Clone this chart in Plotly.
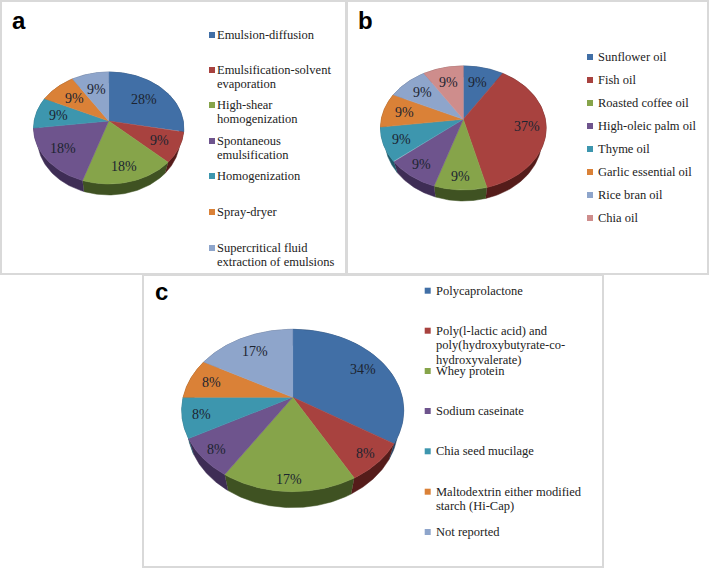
import numpy as np
import plotly.graph_objects as go

# panel a
a_labels = ["Emulsion-diffusion", "Emulsification-solvent\nevaporation", "High-shear\nhomogenization",
            "Spontaneous\nemulsification", "Homogenization", "Spray-dryer",
            "Supercritical fluid\nextraction of emulsions"]
a_values = [28, 9, 18, 18, 9, 9, 9]

# panel b
b_labels = ["Sunflower oil", "Fish oil", "Roasted coffee oil", "High-oleic palm oil",
            "Thyme oil", "Garlic essential oil", "Rice bran oil", "Chia oil"]
b_values = [9, 37, 9, 9, 9, 9, 9, 9]

# panel c
c_labels = ["Polycaprolactone", "Poly(l-lactic acid) and\npoly(hydroxybutyrate-co-\nhydroxyvalerate)",
            "Whey protein", "Sodium caseinate", "Chia seed mucilage",
            "Maltodextrin either modified\nstarch (Hi-Cap)", "Not reported"]
c_values = [34, 8, 17, 8, 8, 8, 17]

colors = ["#416fa6", "#a8423f", "#86a44a", "#6e548d", "#3d96ae", "#da8137", "#8ea5cb", "#ce8d8c"]
wall_colors = ["#26415f", "#551c1a", "#3f5222", "#3e2d55", "#1f5a6b", "#7d4615", "#505f78", "#7a4f4e"]

# layout of each panel, in pixels of the page
panels = [
    dict(name="a", labels=a_labels, values=a_values, cx=108.7, cy=121, rx=74.5, ry=55.1, k=0.125, depth=11,
         lab_r=1.0, frame=(1, 1, 346, 274), letter=(19, 20), sq_x=212, txt_x=215,
         leg_y=[35, 70, 105, 141, 176, 212, 248]),
    dict(name="b", labels=b_labels, values=b_values, cx=463.3, cy=119.3, rx=82, ry=60.8, k=0.14, depth=11,
         lab_r=1.08, frame=(347, 1, 708, 274), letter=(365, 20), sq_x=590, txt_x=595.7,
         leg_y=[57, 80, 103, 126, 149, 172, 195, 218]),
    dict(name="c", labels=c_labels, values=c_values, cx=292.7, cy=397.3, rx=109.5, ry=79, k=0.1625, depth=16,
         lab_r=1.16, frame=(143, 275, 603, 567), letter=(161, 291), sq_x=427.7, txt_x=434,
         leg_y=[290.7, 330.7, 371, 411, 451.3, 491.7, 532]),
]
line_gap = 14.4
lower_scale = 0.95  # bottom disc looks a bit narrower than the top one


def project(p, theta, r=1.0):
    # flat circle tipped towards the viewer, front edge comes out bigger
    u = r * np.sin(theta)
    v = -r * np.cos(theta)
    w = 1 - p["k"] * v
    return p["cx"] + p["rx"] * u / w, p["cy"] + p["ry"] * v / w


fig = go.Figure()
shapes = []
annotations = []

for p in panels:
    x0, y0, x1, y1 = p["frame"]
    shapes.append(dict(type="rect", x0=x0, y0=y0, x1=x1, y1=y1, line=dict(color="#d9d9d9", width=2)))
    annotations.append(dict(x=p["letter"][0], y=p["letter"][1], text="<b>" + p["name"] + "</b>", showarrow=False,
                            font=dict(family="Liberation Sans", size=24, color="black")))

    vals = np.array(p["values"], dtype=float)
    edges = np.concatenate([[0], np.cumsum(vals)]) / vals.sum() * 2 * np.pi

    # side walls first, the tops cover whatever should be hidden
    for i in range(len(vals)):
        t = np.linspace(edges[i], edges[i + 1], 60)
        xs, ys = project(p, t)
        low_x = p["cx"] + (xs - p["cx"]) * lower_scale
        low_y = ys + p["depth"]
        fig.add_trace(go.Scatter(x=np.concatenate([xs, low_x[::-1]]), y=np.concatenate([ys, low_y[::-1]]),
                                 mode="lines", fill="toself", fillcolor=wall_colors[i],
                                 line=dict(color=wall_colors[i], width=0.5), hoverinfo="skip", showlegend=False))

    for i in range(len(vals)):
        t = np.linspace(edges[i], edges[i + 1], 60)
        xs, ys = project(p, t)
        fig.add_trace(go.Scatter(x=np.concatenate([[p["cx"]], xs, [p["cx"]]]), y=np.concatenate([[p["cy"]], ys, [p["cy"]]]),
                                 mode="lines", fill="toself", fillcolor=colors[i],
                                 line=dict(color=colors[i], width=0.5), hoverinfo="skip", showlegend=False))

    # percent labels
    for i, val in enumerate(p["values"]):
        mid = (edges[i] + edges[i + 1]) / 2
        r = (0.7 - 0.07 * np.cos(mid)) * p["lab_r"]
        lx, ly = project(p, mid, r)
        annotations.append(dict(x=lx, y=ly, text=str(val) + "%", showarrow=False,
                                font=dict(family="Liberation Serif", size=14, color="#1c2430")))

    # legend
    fig.add_trace(go.Scatter(x=[p["sq_x"]] * len(p["leg_y"]), y=p["leg_y"], mode="markers",
                             marker=dict(symbol="square", size=6, color=colors[:len(p["leg_y"])]),
                             hoverinfo="skip", showlegend=False))
    for label, y in zip(p["labels"], p["leg_y"]):
        for n, part in enumerate(label.split("\n")):
            annotations.append(dict(x=p["txt_x"], y=y + n * line_gap, text=part, showarrow=False, xanchor="left",
                                    font=dict(family="Liberation Serif", size=12.5, color="#222222")))

fig.update_layout(width=710, height=568, margin=dict(l=0, r=0, t=0, b=0), paper_bgcolor="white", plot_bgcolor="white",
                  xaxis=dict(range=[0, 710], visible=False, fixedrange=True),
                  yaxis=dict(range=[568, 0], visible=False, fixedrange=True),
                  shapes=shapes, annotations=annotations, showlegend=False)
fig.write_html("out.html", post_script="document.body.style.margin='0';", config={"displayModeBar": False})
